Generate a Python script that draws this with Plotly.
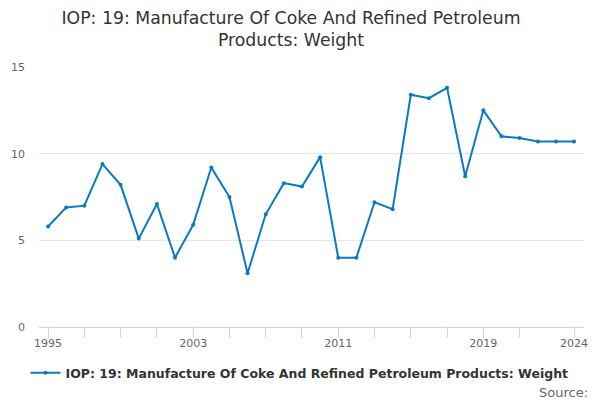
import plotly.graph_objects as go

years = list(range(1995, 2025))
weight = [5.8, 6.9, 7.0, 9.4, 8.2, 5.1, 7.1, 4.0, 5.9, 9.2,
          7.5, 3.1, 6.5, 8.3, 8.1, 9.8, 4.0, 4.0, 7.2, 6.8,
          13.4, 13.2, 13.8, 8.7, 12.5, 11.0, 10.9, 10.7, 10.7, 10.7]

tick_years = list(range(1995, 2023, 2)) + [2024]
tick_labels = [str(y) if y in (1995, 2003, 2011, 2019, 2024) else "" for y in tick_years]

series_name = "IOP: 19: Manufacture Of Coke And Refined Petroleum Products: Weight"
font = "DejaVu Sans"

fig = go.Figure()
fig.add_trace(go.Scatter(
    x=years, y=weight, mode="lines+markers", name=series_name,
    line=dict(color="#0a7ac2", width=2),
    marker=dict(size=4, color="#0a7ac2"),
))

fig.update_layout(
    width=600, height=400,
    paper_bgcolor="white", plot_bgcolor="white",
    margin=dict(l=39, r=16, t=67, b=73),
    font=dict(family=font, color="#666666", size=11),
    title=dict(
        text="IOP: 19: Manufacture Of Coke And Refined Petroleum<br>Products: Weight",
        x=0.485, xanchor="center", y=0.94, yanchor="top",
        font=dict(family=font, size=17.3, color="#333333"),
    ),
    showlegend=True,
    legend=dict(
        orientation="h", x=0.478, xanchor="center", y=-0.177, yanchor="middle",
        font=dict(family=font, size=12.5, color="#333333", weight="bold"),
    ),
    xaxis=dict(
        range=[1994.5, 2024.55], tickvals=tick_years, ticktext=tick_labels,
        showgrid=False, zeroline=False, showline=True, linecolor="#ccd6eb",
        ticks="outside", ticklen=10, tickcolor="#ccd6eb", ticklabelstandoff=-4,
        tickfont=dict(size=11, color="#666666"), automargin=False,
    ),
    yaxis=dict(
        range=[0, 15], tickvals=[0, 5, 10, 15],
        showgrid=True, gridcolor="#e6e6e6", zeroline=False, showline=False,
        ticks="", ticklabelstandoff=13, automargin=False,
        tickfont=dict(size=11, color="#666666"),
    ),
)

# "Source:" footer, bottom right
fig.add_annotation(
    text="Source:", xref="x domain", yref="paper", x=1.011, y=-0.252,
    xanchor="right", yanchor="middle", showarrow=False,
    font=dict(family=font, size=13, color="#666666"),
)

# drop the page's default body margin so the chart sits at the window's corner
fig.write_html("out.html", config={"displayModeBar": False},
               post_script="document.body.style.margin='0';")
